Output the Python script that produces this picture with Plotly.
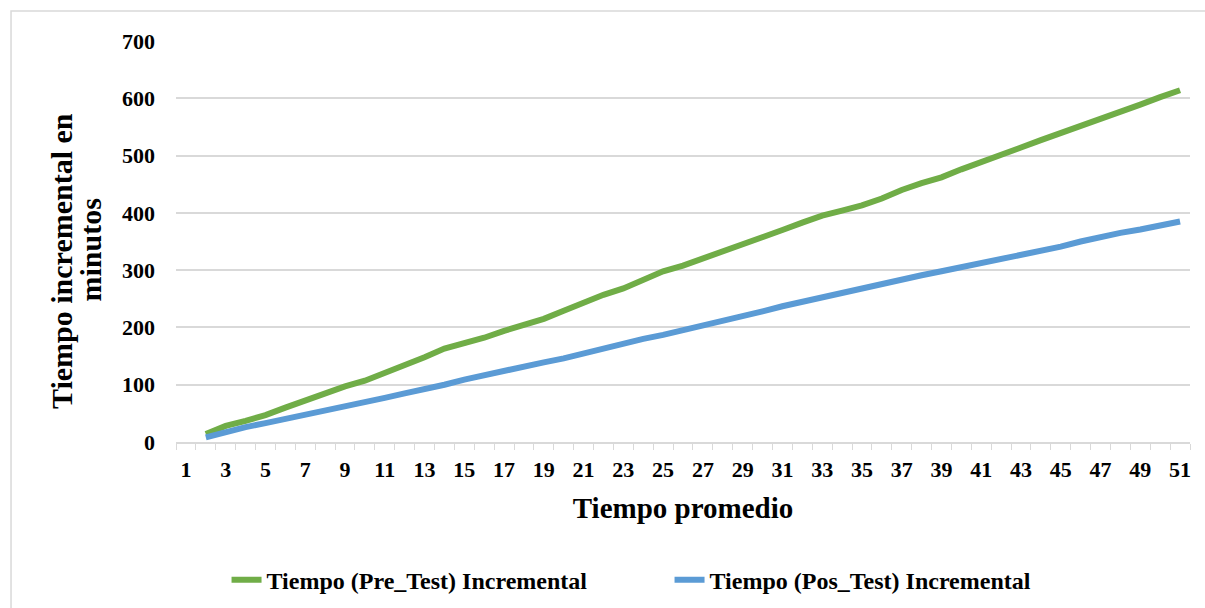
import plotly.graph_objects as go

# Time periods (1..51); measurements start at period 2
periodos = list(range(2, 52))

pre_test = [14, 28, 37, 47, 60, 73, 86, 97, 107, 120,
            133, 148, 163, 172, 182, 194, 205, 215, 229, 244,
            257, 268, 283, 298, 308, 320, 333, 345, 356, 370,
            383, 395, 404, 413, 425, 440, 452, 462, 476, 488,
            500, 514, 527, 539, 553, 564, 576, 589, 602, 614]

pos_test = [8, 18, 26, 33, 40, 47, 54, 61, 69, 77,
            85, 92, 100, 109, 117, 124, 131, 139, 146, 155,
            164, 172, 180, 187, 195, 203, 210, 219, 228, 237,
            245, 253, 261, 268, 276, 284, 291, 298, 305, 313,
            319, 327, 333, 341, 350, 358, 365, 371, 378, 385]

x_ticks = list(range(1, 52, 2))
y_ticks = [0, 100, 200, 300, 400, 500, 600, 700]

y_title_lines = ["Tiempo incremental en", "minutos"]

FONT = "Liberation Serif"
GRID = "#d9d9d9"

fig = go.Figure()
fig.add_trace(go.Scatter(
    x=periodos, y=pre_test, mode="lines",
    name="<b>Tiempo (Pre_Test) Incremental</b>",
    line=dict(color="#70AD47", width=6),
))
fig.add_trace(go.Scatter(
    x=periodos, y=pos_test, mode="lines",
    name="<b>Tiempo (Pos_Test) Incremental</b>",
    line=dict(color="#5B9BD5", width=6),
))

# Two-line vertical axis title, each line placed on its own
title_pos = [(-0.1124, 0.4514), (-0.0853, 0.4788)]
for text, (ax, ay) in zip(y_title_lines, title_pos):
    fig.add_annotation(
        text=f"<b>{text}</b>", xref="paper", yref="paper",
        x=ax, y=ay, xanchor="center", yanchor="middle",
        textangle=-90, showarrow=False,
        font=dict(family=FONT, size=30, color="black"),
    )

fig.update_layout(
    width=1205, height=608,
    margin=dict(l=176, r=15, t=41, b=166, autoexpand=False),
    paper_bgcolor="white", plot_bgcolor="white",
    font=dict(family=FONT, color="black"),
    showlegend=True,
    legend=dict(
        orientation="h",
        xref="container", x=0.188, xanchor="left",
        yref="container", y=0.046, yanchor="middle",
        font=dict(family=FONT, size=24, color="black"),
        entrywidth=398, entrywidthmode="pixels",
        tracegroupgap=0,
    ),
    xaxis=dict(
        range=[0.5, 51.5],
        tickvals=x_ticks,
        ticktext=[f"<b>{v}</b>" for v in x_ticks],
        tickfont=dict(family=FONT, size=22, color="black"),
        ticks="", showgrid=False, zeroline=False,
        showline=True, linecolor=GRID, linewidth=1.5,
        ticklabelstandoff=7,
        minor=dict(tick0=0.5, dtick=1, ticks="outside", ticklen=6,
                   tickcolor=GRID, tickwidth=1.2, showgrid=False),
        title=dict(text="<b>Tiempo promedio</b>",
                   font=dict(family=FONT, size=29, color="black"),
                   standoff=17),
        automargin=False,
        fixedrange=True,
    ),
    yaxis=dict(
        range=[0, 700],
        tickvals=y_ticks,
        ticktext=[f"<b>{v}</b>" for v in y_ticks],
        tickfont=dict(family=FONT, size=22, color="black"),
        ticks="", showgrid=True, gridcolor=GRID, gridwidth=1.5,
        zeroline=False, showline=False,
        ticklabelstandoff=20,
        automargin=False,
        fixedrange=True,
    ),
    shapes=[dict(
        type="rect", xref="paper", yref="paper",
        x0=-0.1627, x1=1.2, y0=-0.6, y1=1.0748,
        line=dict(color=GRID, width=1.5), fillcolor="rgba(0,0,0,0)",
        layer="below",
    )],
)

fig.write_html("out.html", config={"displayModeBar": False})
